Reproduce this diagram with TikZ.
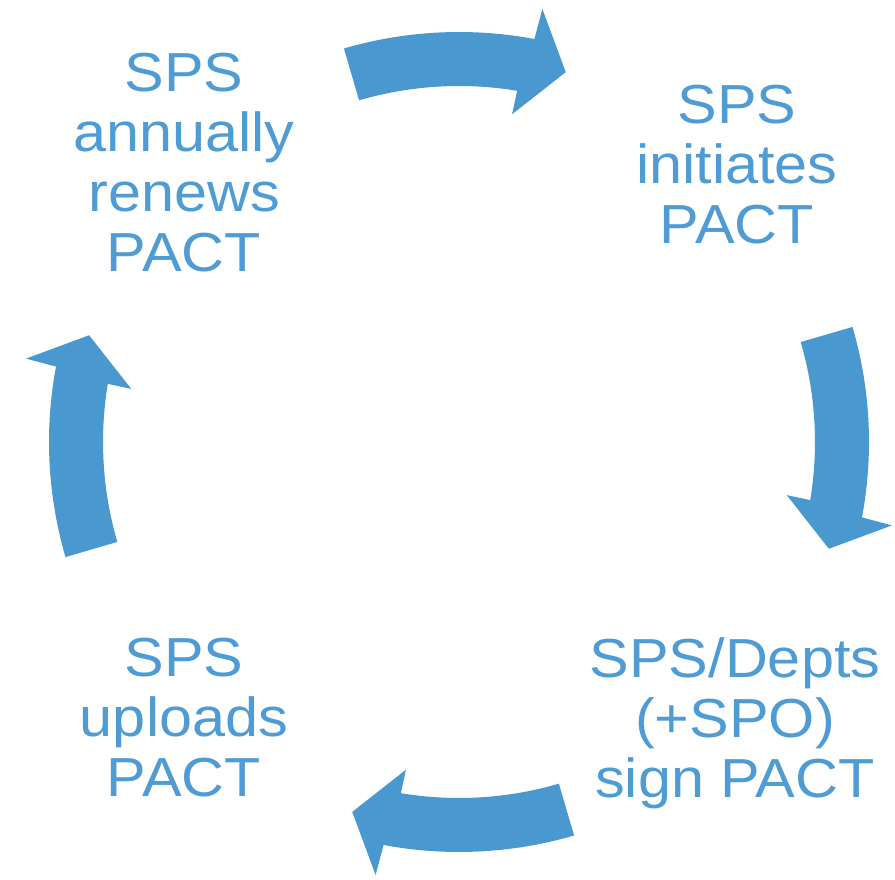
\documentclass[tikz,border=0pt]{standalone}
\usepackage{fontspec}
\setmainfont{Liberation Sans}
\definecolor{arrowblue}{HTML}{4A98D0}
\definecolor{textblue}{HTML}{4F9BD3}
\begin{document}
\begin{tikzpicture}[x=1pt,y=1pt,
  lbl/.style={text=textblue, align=center, inner sep=0pt, text depth=0pt,
    xscale=1.08, font=\fontsize{55}{60}\selectfont},
  cyc/.style={fill=arrowblue}]
\useasboundingbox (0,0) rectangle (895,879);
% labels
\node[lbl] (renew) at (184,717) {SPS\\annually\\renews\\PACT};
\node[lbl] (init) at (737,715) {SPS\\initiates\\PACT};
\node[lbl] (upload) at (184,162) {SPS\\uploads\\PACT};
\node[lbl] (sign) at (735,161) {SPS/Depts\\(+SPO)\\sign PACT};
% curved arrows around the centre
\coordinate (c) at (459,437);
\begin{scope}[shift={(c)}]
\foreach \t in {90,0,-90,-180}{
  \fill[cyc] (\t+16.3:410) arc[start angle=\t+16.3, end angle=\t-10.6, radius=410]
    -- (\t-10.9:441) -- (\t-16.1:385) -- (\t-9.2:332) -- (\t-9.4:356)
    arc[start angle=\t-9.4, end angle=\t+16.3, radius=356] -- cycle;
}
\end{scope}
\end{tikzpicture}
\end{document}
